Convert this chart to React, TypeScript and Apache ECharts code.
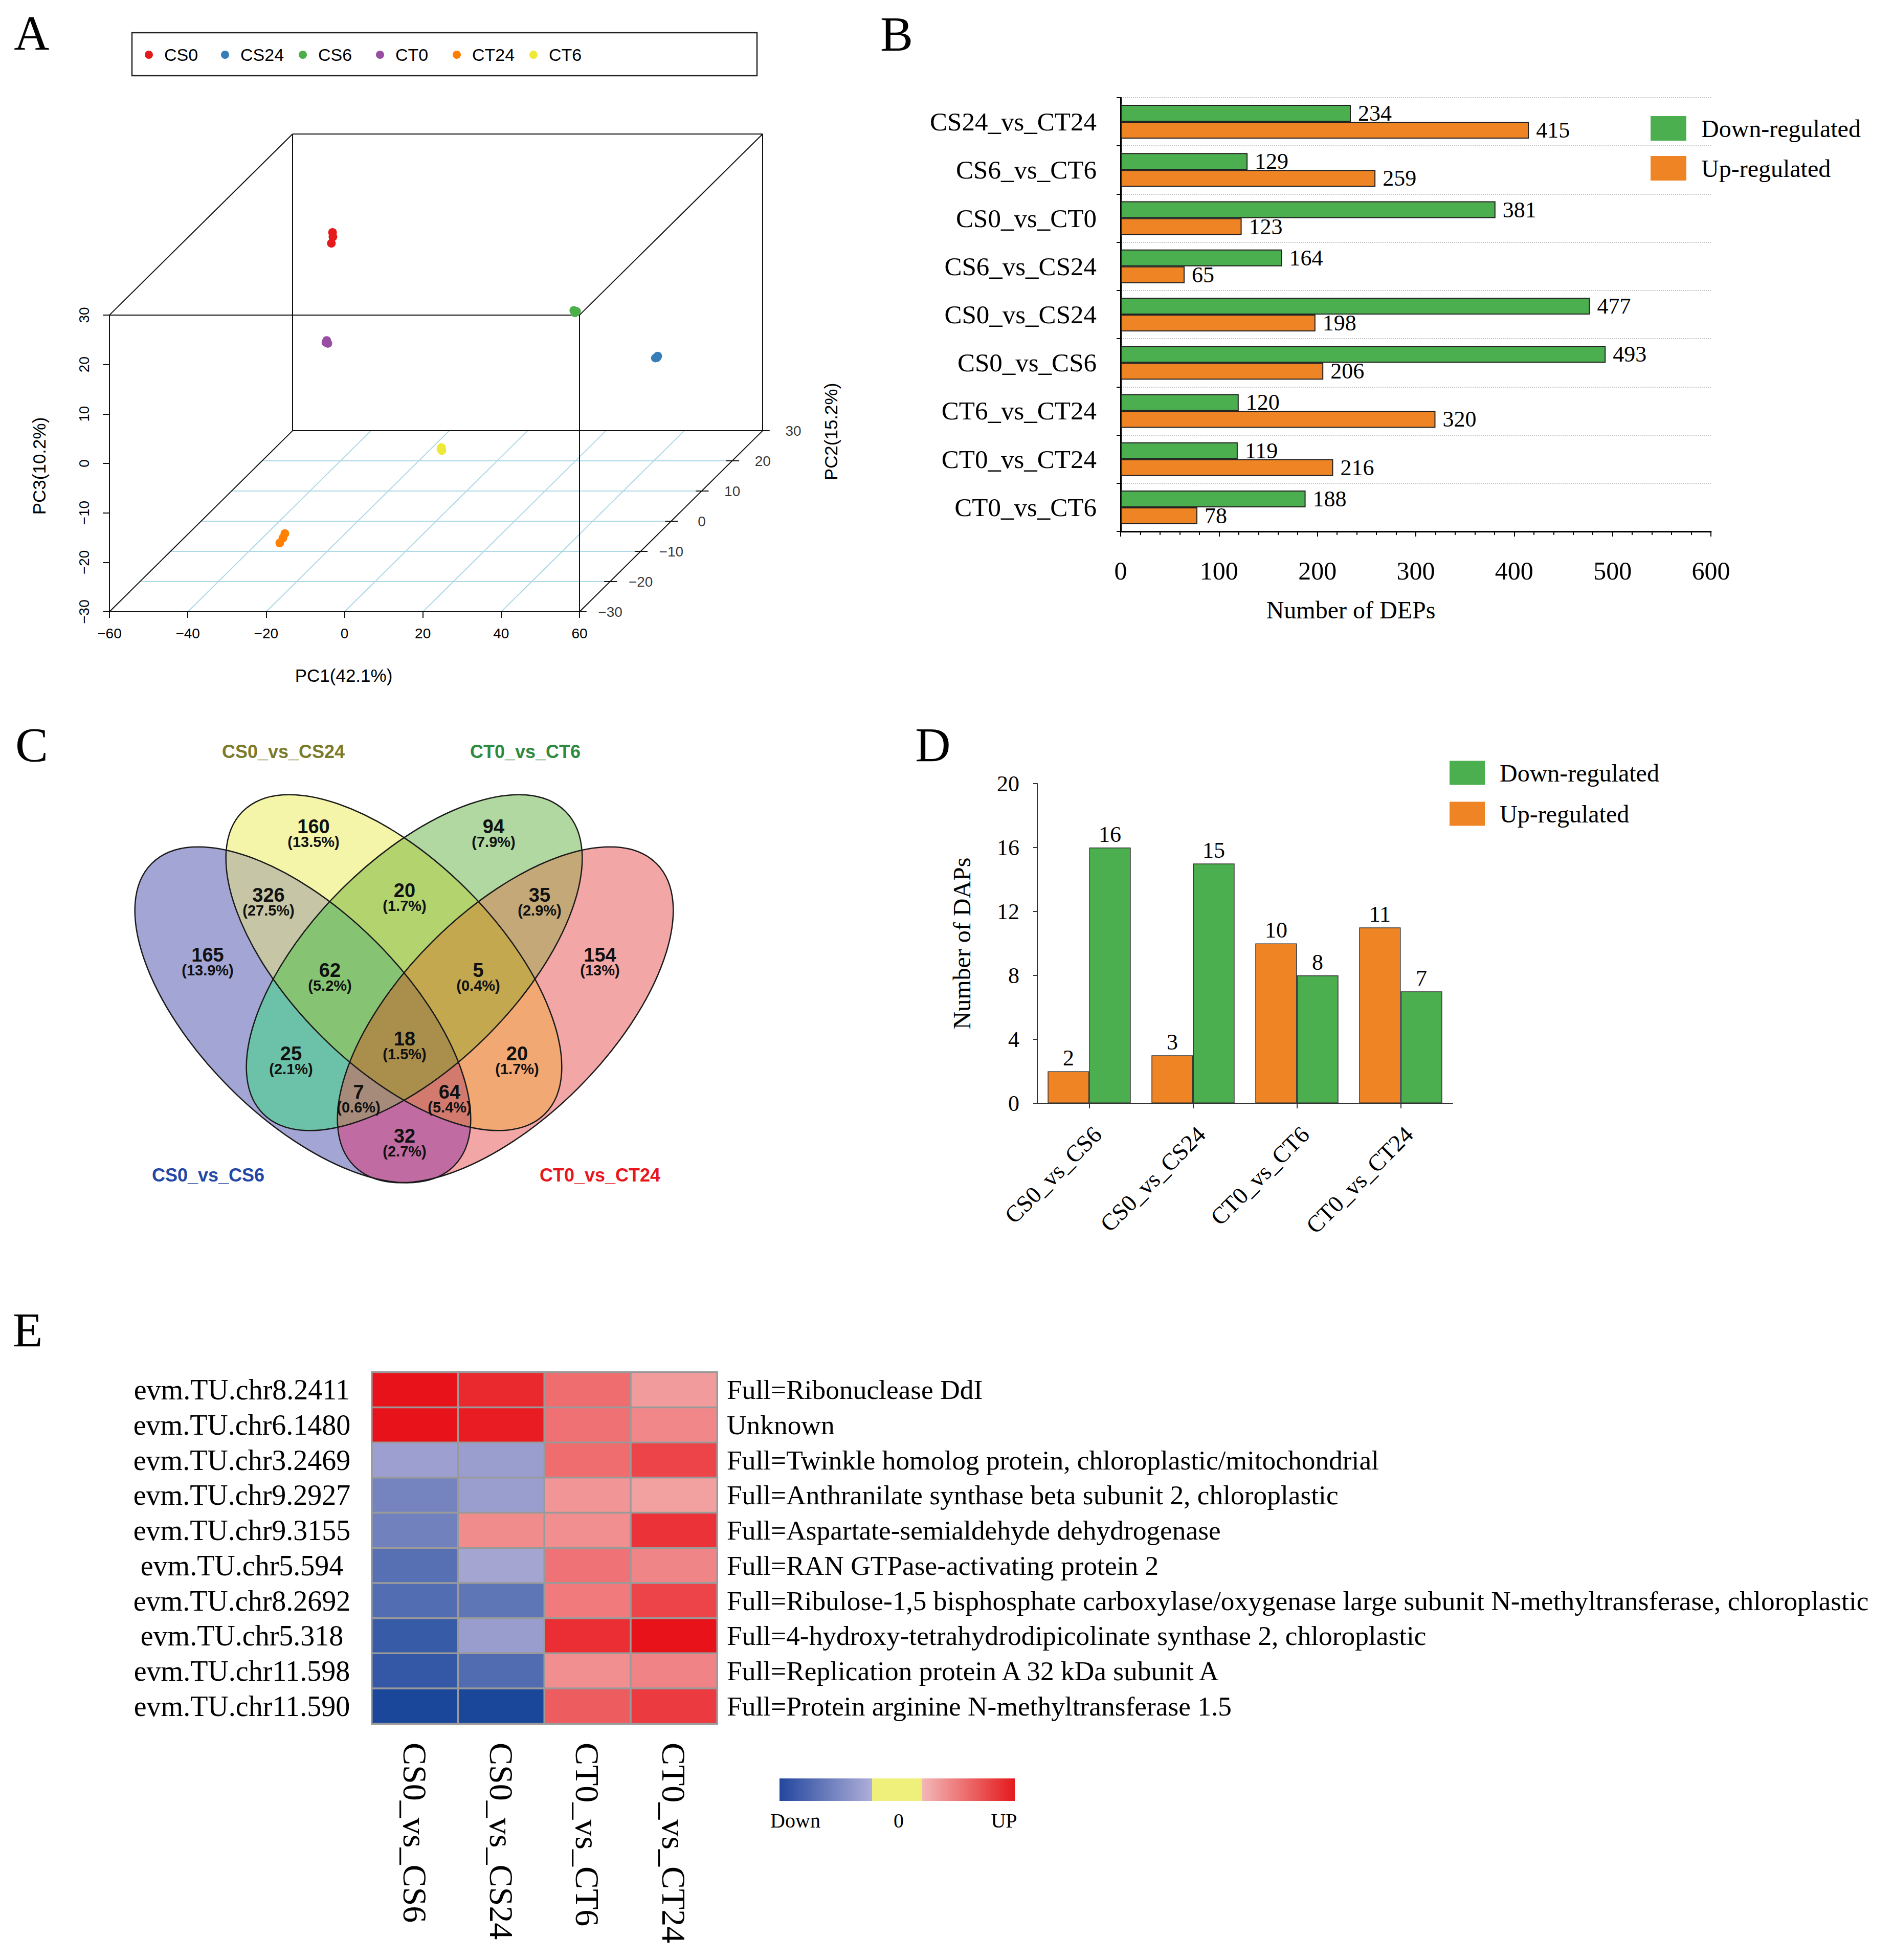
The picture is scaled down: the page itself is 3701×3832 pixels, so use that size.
import React, { useEffect, useRef } from 'react';
import * as echarts from 'echarts';

const W = 3701;
const H = 3832;
const SERIF = '"Liberation Serif", "Times New Roman", serif';
const SANS = '"Liberation Sans", Arial, sans-serif';

// ---------------- Panel A : PCA (PC1, PC2, PC3 per replicate) ----------------
const pcaGroups = ['CS0', 'CS24', 'CS6', 'CT0', 'CT24', 'CT6'];
const pcaCS0 = [[-42.0, 20, 16.2], [-41.9, 20, 15.3], [-42.3, 20, 14.0]];
const pcaCS24 = [[48.2, 10, -3.1], [48.8, 10, -2.7], [48.6, 10, -3.0]];
const pcaCS6 = [[56.2, -27, 29.1], [56.9, -27, 28.9], [56.5, -27, 28.6]];
const pcaCT0 = [[-39.6, 15, -2.6], [-39.3, 15, -3.2], [-39.8, 15, -3.0]];
const pcaCT24 = [[-30.8, -10, -26.4], [-31.3, -10, -27.3], [-32.1, -10, -28.3]];
const pcaCT6 = [[-14.2, 20, -27.3], [-14.1, 20, -27.9], [-14.3, 20, -27.6]];
const pc1Ticks = [-60, -40, -20, 0, 20, 40, 60];
const pc2Ticks = [-30, -20, -10, 0, 10, 20, 30];
const pc3Ticks = [-30, -20, -10, 0, 10, 20, 30];
const pcTitles = ['PC1(42.1%)', 'PC2(15.2%)', 'PC3(10.2%)'];

// ---------------- Panel B ----------------
const catsB = ['CS24_vs_CT24', 'CS6_vs_CT6', 'CS0_vs_CT0', 'CS6_vs_CS24', 'CS0_vs_CS24', 'CS0_vs_CS6', 'CT6_vs_CT24', 'CT0_vs_CT24', 'CT0_vs_CT6'];
const downB = [234, 129, 381, 164, 477, 493, 120, 119, 188];
const upB = [415, 259, 123, 65, 198, 206, 320, 216, 78];

// ---------------- Panel C : Venn (sets order: CS0_vs_CS6, CS0_vs_CS24, CT0_vs_CT6, CT0_vs_CT24) ----------------
const vennSets = ['CS0_vs_CS6', 'CS0_vs_CS24', 'CT0_vs_CT6', 'CT0_vs_CT24'];
const vennCounts = [165, 160, 94, 154, 326, 20, 35, 62, 5, 25, 20, 18, 7, 64, 32];
const vennMembership = [
  [1, 0, 0, 0], [0, 1, 0, 0], [0, 0, 1, 0], [0, 0, 0, 1],
  [1, 1, 0, 0], [0, 1, 1, 0], [0, 0, 1, 1], [1, 1, 1, 0], [0, 1, 1, 1],
  [1, 0, 1, 0], [0, 1, 0, 1], [1, 1, 1, 1], [1, 0, 1, 1], [1, 1, 0, 1], [1, 0, 0, 1],
];

// ---------------- Panel D ----------------
const catsD = ['CS0_vs_CS6', 'CS0_vs_CS24', 'CT0_vs_CT6', 'CT0_vs_CT24'];
const upD = [2, 3, 10, 11];
const downD = [16, 15, 8, 7];

// ---------------- Panel E : heatmap ----------------
const colsE = ['CS0_vs_CS6', 'CS0_vs_CS24', 'CT0_vs_CT6', 'CT0_vs_CT24'];
const genesE = ['evm.TU.chr8.2411', 'evm.TU.chr6.1480', 'evm.TU.chr3.2469', 'evm.TU.chr9.2927', 'evm.TU.chr9.3155', 'evm.TU.chr5.594', 'evm.TU.chr8.2692', 'evm.TU.chr5.318', 'evm.TU.chr11.598', 'evm.TU.chr11.590'];
const descE = [
  'Full=Ribonuclease DdI',
  'Unknown',
  'Full=Twinkle homolog protein, chloroplastic/mitochondrial',
  'Full=Anthranilate synthase beta subunit 2, chloroplastic',
  'Full=Aspartate-semialdehyde dehydrogenase',
  'Full=RAN GTPase-activating protein 2',
  'Full=Ribulose-1,5 bisphosphate carboxylase/oxygenase large subunit N-methyltransferase, chloroplastic',
  'Full=4-hydroxy-tetrahydrodipicolinate synthase 2, chloroplastic',
  'Full=Replication protein A 32 kDa subunit A',
  'Full=Protein arginine N-methyltransferase 1.5',
];
const valuesE = [
  [1.0, 0.9, 0.6, 0.39],
  [1.0, 0.96, 0.58, 0.48],
  [-0.38, -0.39, 0.6, 0.78],
  [-0.57, -0.39, 0.42, 0.37],
  [-0.59, 0.46, 0.45, 0.86],
  [-0.71, -0.34, 0.57, 0.49],
  [-0.73, -0.68, 0.54, 0.78],
  [-0.86, -0.4, 0.88, 1.0],
  [-0.88, -0.74, 0.45, 0.5],
  [-1.0, -1.0, 0.67, 0.82],
];
const scaleLabelsE = ['Down', '0', 'UP'];

// ---------------- layout / styles ----------------
const A_COLORS = ['#E41A1C', '#377EB8', '#4DAF4A', '#984EA3', '#FF7F00', '#EEE936'];
const GREEN = '#4BAE4F';
const ORANGE = '#EF8425';
const KX = 0.779;
const KY = 0.61;
const proj = (p1: number, p2: number, p3: number) => [p1 + (p2 + 30) * KX, p3 + (p2 + 30) * KY];
const fmtMinus = (v: number) => (v < 0 ? '\u2212' + Math.abs(v) : String(v));

// Venn geometry (layout)
const VENN_ELL = [
  { cx: 592, cy: 1984, rot: -45, fill: 'rgba(71,75,171,0.5)' },
  { cx: 770, cy: 1882, rot: -45, fill: 'rgba(233,235,81,0.5)' },
  { cx: 810, cy: 1882, rot: 45, fill: 'rgba(97,177,65,0.5)' },
  { cx: 988, cy: 1984, rot: 45, fill: 'rgba(229,77,77,0.5)' },
];
const EA = 418;
const EB = 202;
const VENN_POS = [[406, 1867], [613, 1616], [965, 1616], [1173, 1867], [525, 1750], [791, 1741], [1055, 1750], [645, 1897], [935, 1897], [569, 2060], [1011, 2060], [791, 2031], [701, 2135], [879, 2135], [791, 2221]];
const VENN_REGION_COLORS = [null, null, null, null, '#C6C6A6', '#B3D36F', '#C4A878', '#86C474', '#C4A84F', '#6CC2A8', '#F2A872', '#A98E4C', '#A68B7B', '#D27A6E', '#C06CA2'];

function insideEll(k: number, x: number, y: number) {
  const e = VENN_ELL[k];
  const r = (e.rot * Math.PI) / 180;
  const dx = x - e.cx, dy = y - e.cy;
  const u = dx * Math.cos(r) - dy * Math.sin(r);
  const v = dx * Math.sin(r) + dy * Math.cos(r);
  return (u * u) / (EA * EA) + (v * v) / (EB * EB) <= 1;
}
function sameRegion(mem: number[], x: number, y: number) {
  for (let k = 0; k < 4; k++) if ((insideEll(k, x, y) ? 1 : 0) !== mem[k]) return false;
  return true;
}
function regionPolygon(cx: number, cy: number, mem: number[]) {
  const pts: number[][] = [];
  const N = 360;
  for (let i = 0; i < N; i++) {
    const t = (i / N) * Math.PI * 2;
    const c = Math.cos(t), s = Math.sin(t);
    let lo = 0, hi = 0;
    for (let d = 2; d < 900; d += 2) {
      if (!sameRegion(mem, cx + d * c, cy + d * s)) { lo = d - 2; hi = d; break; }
    }
    if (hi === 0) { lo = 900; hi = 900; }
    for (let it = 0; it < 14; it++) {
      const m = (lo + hi) / 2;
      if (sameRegion(mem, cx + m * c, cy + m * s)) lo = m; else hi = m;
    }
    pts.push([cx + hi * c, cy + hi * s]);
  }
  return pts;
}

function buildOption() {
  const pcaData = [pcaCS0, pcaCS24, pcaCS6, pcaCT0, pcaCT24, pcaCT6];

  const r1 = [-60, 60], r2 = [-30, 30], r3 = [-30, 30];
  const corners: number[][] = [];
  for (let i = 0; i < 8; i++) corners.push([r1[i & 1], r2[(i >> 1) & 1], r3[(i >> 2) & 1]]);
  const boxEdges: any[] = [];
  for (let i = 0; i < 8; i++)
    for (let j = i + 1; j < 8; j++) {
      const x = i ^ j;
      if (x === 1 || x === 2 || x === 4) {
        boxEdges.push({ coords: [proj(corners[i][0], corners[i][1], corners[i][2]), proj(corners[j][0], corners[j][1], corners[j][2])] });
      }
    }
  const floor: any[] = [];
  pc2Ticks.slice(1, -1).forEach((v) => floor.push({ coords: [proj(-60, v, -30), proj(60, v, -30)] }));
  pc1Ticks.slice(1, -1).forEach((u) => floor.push({ coords: [proj(u, -30, -30), proj(u, 30, -30)] }));
  const pc2TickLines = pc2Ticks.map((v) => ({ coords: [proj(58.5, v, -30), proj(61.8, v, -30)] }));

  const series: any[] = [];
  series.push({ type: 'lines', coordinateSystem: 'cartesian2d', xAxisIndex: 0, yAxisIndex: 0, data: floor, lineStyle: { color: '#ADD8E6', width: 2, opacity: 1 }, silent: true, clip: false, z: 2 });
  series.push({ type: 'lines', coordinateSystem: 'cartesian2d', xAxisIndex: 0, yAxisIndex: 0, data: boxEdges, lineStyle: { color: '#111', width: 2, opacity: 1 }, silent: true, clip: false, z: 3 });
  series.push({ type: 'lines', coordinateSystem: 'cartesian2d', xAxisIndex: 0, yAxisIndex: 0, data: pc2TickLines, lineStyle: { color: '#111', width: 2, opacity: 1 }, silent: true, clip: false, z: 3 });
  series.push({
    type: 'scatter', xAxisIndex: 0, yAxisIndex: 0, silent: true, clip: false,
    data: pc2Ticks.map((v) => [...proj(60, v, -30), v]),
    symbolSize: 1, itemStyle: { color: 'rgba(0,0,0,0)' },
    label: { show: true, position: 'inside', offset: [60, 0], formatter: (p: any) => fmtMinus(p.value[2]), fontSize: 28, fontFamily: SANS, color: '#000' },
  });
  pcaGroups.forEach((g, i) => {
    series.push({
      type: 'scatter', name: g, xAxisIndex: 0, yAxisIndex: 0, silent: true, clip: false, z: 5,
      data: pcaData[i].map((p) => proj(p[0], p[1], p[2])),
      symbolSize: 17, itemStyle: { color: A_COLORS[i], opacity: 1 },
    });
  });

  // Panel B
  series.push({
    type: 'bar', name: 'Down-regulated', xAxisIndex: 1, yAxisIndex: 1, data: downB, barWidth: 33, barGap: '0%',
    itemStyle: { color: GREEN, borderColor: '#222', borderWidth: 2 },
    label: { show: true, position: 'right', distance: 14, fontSize: 44, fontFamily: SERIF, color: '#000' },
  });
  series.push({
    type: 'bar', name: 'Up-regulated', xAxisIndex: 1, yAxisIndex: 1, data: upB, barWidth: 33, barGap: '0%',
    itemStyle: { color: ORANGE, borderColor: '#222', borderWidth: 2 },
    label: { show: true, position: 'right', distance: 14, fontSize: 44, fontFamily: SERIF, color: '#000' },
  });

  // Panel D
  series.push({
    type: 'bar', name: 'Up-regulated', xAxisIndex: 2, yAxisIndex: 2, data: upD, barGap: '0%', barCategoryGap: '20%',
    itemStyle: { color: ORANGE, borderColor: '#333', borderWidth: 1.5 },
    label: { show: true, position: 'top', distance: 4, fontSize: 44, fontFamily: SERIF, color: '#000' },
  });
  series.push({
    type: 'bar', name: 'Down-regulated', xAxisIndex: 2, yAxisIndex: 2, data: downD, barGap: '0%', barCategoryGap: '20%',
    itemStyle: { color: GREEN, borderColor: '#333', borderWidth: 1.5 },
    label: { show: true, position: 'top', distance: 4, fontSize: 44, fontFamily: SERIF, color: '#000' },
  });

  // Panel E
  const heatIndex = series.length;
  series.push({
    type: 'heatmap', xAxisIndex: 3, yAxisIndex: 3, silent: true,
    data: valuesE.flatMap((row, r) => row.map((v, c) => [c, r, v])),
    itemStyle: { borderColor: '#9A9A9A', borderWidth: 3.5 },
  });

  // ---------- graphics ----------
  const g: any[] = [];
  const txt = (x: number, y: number, text: string, size: number, family: string, extra: any = {}) => ({
    type: 'text', x, y, silent: true,
    style: { text, fontSize: size, fontFamily: family, fill: '#000', align: 'center', verticalAlign: 'middle', ...(extra.style || {}) },
    ...(extra.el || {}),
  });
  [['A', 62, 64], ['B', 1753, 66], ['C', 62, 1456], ['D', 1824, 1456], ['E', 54, 2600]].forEach((l: any) => g.push(txt(l[1], l[2], l[0], 96, SERIF)));

  // Panel A legend
  g.push({ type: 'rect', silent: true, shape: { x: 258, y: 64, width: 1222, height: 84 }, style: { fill: 'none', stroke: '#222', lineWidth: 2.5 } });
  const legX = [291, 440, 592, 743, 893, 1043];
  pcaGroups.forEach((name, i) => {
    g.push({ type: 'circle', silent: true, shape: { cx: legX[i], cy: 107, r: 8 }, style: { fill: A_COLORS[i] } });
    g.push(txt(legX[i] + 30, 107, name, 34, SANS, { style: { align: 'left' } }));
  });
  g.push(txt(672, 1320, pcTitles[0], 35, SANS));
  g.push(txt(1624, 844, pcTitles[1], 35, SANS, { el: { rotation: Math.PI / 2 } }));
  g.push(txt(76, 911, pcTitles[2], 35, SANS, { el: { rotation: Math.PI / 2 } }));

  // Panel C venn: base translucent ellipses, region overlays, outlines, labels
  VENN_ELL.forEach((e) => g.push({ type: 'ellipse', silent: true, x: e.cx, y: e.cy, rotation: (e.rot * Math.PI) / 180, shape: { cx: 0, cy: 0, rx: EA, ry: EB }, style: { fill: e.fill } }));
  vennMembership.forEach((mem, i) => {
    const col = VENN_REGION_COLORS[i];
    if (!col) return;
    g.push({ type: 'polygon', silent: true, shape: { points: regionPolygon(VENN_POS[i][0], VENN_POS[i][1] + 14, mem) }, style: { fill: col, stroke: col, lineWidth: 1 } });
  });
  VENN_ELL.forEach((e) => g.push({ type: 'ellipse', silent: true, x: e.cx, y: e.cy, rotation: (e.rot * Math.PI) / 180, shape: { cx: 0, cy: 0, rx: EA, ry: EB }, style: { fill: 'none', stroke: '#1a1a1a', lineWidth: 2.5 } }));
  const total = vennCounts.reduce((s, v) => s + v, 0);
  vennCounts.forEach((c, i) => {
    const [x, y] = VENN_POS[i];
    const pct = Number(((c / total) * 100).toFixed(1)).toString();
    g.push(txt(x, y, String(c), 38, SANS, { style: { fontWeight: 'bold', fill: '#111', lineHeight: 30 } }));
    g.push(txt(x, y + 30, '(' + pct + '%)', 29, SANS, { style: { fontWeight: 'bold', fill: '#111', lineHeight: 24 } }));
  });
  const setPos = [[407, 2297], [554, 1469], [1027, 1469], [1173, 2297]];
  const setCol = ['#2347A5', '#7B7B2C', '#2F8A3E', '#E8171D'];
  vennSets.forEach((s, i) => g.push(txt(setPos[i][0], setPos[i][1], s, 36, SANS, { style: { fontWeight: 'bold', fill: setCol[i] } })));

  // Panel E colour key
  g.push({ type: 'rect', silent: true, shape: { x: 1524, y: 3477, width: 182, height: 44 }, style: { fill: new echarts.graphic.LinearGradient(0, 0, 1, 0, [{ offset: 0, color: '#23469E' }, { offset: 1, color: '#AFAFD9' }]) } });
  g.push({ type: 'rect', silent: true, shape: { x: 1705, y: 3477, width: 98, height: 44 }, style: { fill: '#EFEF7C' } });
  g.push({ type: 'rect', silent: true, shape: { x: 1802, y: 3477, width: 182, height: 44 }, style: { fill: new echarts.graphic.LinearGradient(0, 0, 1, 0, [{ offset: 0, color: '#F3B8B8' }, { offset: 1, color: '#E41A1C' }]) } });
  [1555, 1757, 1963].forEach((x, i) => g.push(txt(x, 3559, scaleLabelsE[i], 40, SERIF)));

  const noLine = { show: false, onZero: false };
  return {
    animation: false,
    backgroundColor: '#ffffff',
    textStyle: { fontFamily: SERIF },
    grid: [
      { left: 214, top: 262, width: 1277, height: 934 },
      { left: 2191, top: 191, width: 1154, height: 848 },
      { left: 2028, top: 1532, width: 812, height: 625 },
      { left: 727, top: 2683, width: 675, height: 687 },
    ].map((gr) => ({ ...gr, containLabel: false, outerBoundsMode: 'none' })),
    xAxis: [
      {
        gridIndex: 0, type: 'value', min: -60, max: 60 + 60 * KX, axisLine: noLine, splitLine: { show: false },
        axisTick: { show: true, customValues: pc1Ticks, length: 12, lineStyle: { color: '#111', width: 2 } },
        axisLabel: { customValues: pc1Ticks, formatter: fmtMinus, fontSize: 28, fontFamily: SANS, color: '#000', margin: 28 },
      },
      {
        gridIndex: 1, type: 'value', min: 0, max: 600, interval: 100,
        axisLine: { show: true, onZero: false, lineStyle: { color: '#000', width: 3 } },
        axisTick: { show: true, length: 10, lineStyle: { color: '#000', width: 2 } },
        minorTick: { show: true, splitNumber: 5, length: 7, lineStyle: { color: '#000', width: 2 } },
        splitLine: { show: false },
        axisLabel: { fontSize: 50, fontFamily: SERIF, color: '#000', margin: 52 },
        name: 'Number of DEPs', nameLocation: 'middle', nameGap: 129,
        nameTextStyle: { fontSize: 48, fontFamily: SERIF, color: '#000', padding: [0, 254, 0, 0] },
      },
      {
        gridIndex: 2, type: 'category', data: catsD,
        axisLine: { show: true, lineStyle: { color: '#333', width: 2 } },
        axisTick: { show: true, alignWithLabel: true, length: 10, lineStyle: { color: '#333', width: 2 } },
        axisLabel: { rotate: 45, interval: 0, verticalAlign: 'top', fontSize: 46, fontFamily: SERIF, color: '#000', margin: 37 },
      },
      {
        gridIndex: 3, type: 'category', data: colsE, position: 'bottom', axisLine: noLine, axisTick: { show: false }, splitLine: { show: false },
        axisLabel: { rotate: -90, interval: 0, fontSize: 66, fontFamily: SERIF, color: '#000', margin: 37 },
      },
    ],
    yAxis: [
      {
        gridIndex: 0, type: 'value', min: -30, max: 30 + 60 * KY, axisLine: noLine, splitLine: { show: false },
        axisTick: { show: true, customValues: pc3Ticks, length: 13, lineStyle: { color: '#111', width: 2 } },
        axisLabel: { customValues: pc3Ticks, formatter: fmtMinus, rotate: 90, fontSize: 28, fontFamily: SANS, color: '#000', margin: 36 },
      },
      {
        gridIndex: 1, type: 'category', data: catsB, inverse: true,
        axisLine: { show: true, onZero: false, lineStyle: { color: '#000', width: 3 } },
        axisTick: { show: true, length: 8, lineStyle: { color: '#000', width: 2 } },
        axisLabel: { interval: 0, fontSize: 51, fontFamily: SERIF, color: '#000', margin: 47 },
        splitLine: { show: true, interval: 0, lineStyle: { type: 'dotted', color: '#c4c4c4', width: 2 } },
      },
      {
        gridIndex: 2, type: 'value', min: 0, max: 20, interval: 4,
        axisLine: { show: true, onZero: false, lineStyle: { color: '#333', width: 2 } },
        axisTick: { show: true, length: 8, lineStyle: { color: '#333', width: 2 } },
        splitLine: { show: false },
        axisLabel: { fontSize: 44, fontFamily: SERIF, color: '#000', margin: 35 },
        name: 'Number of DAPs', nameLocation: 'middle', nameGap: 124, nameTextStyle: { fontSize: 48, fontFamily: SERIF, color: '#000' },
      },
      {
        gridIndex: 3, type: 'category', data: genesE, inverse: true, axisLine: noLine, axisTick: { show: false }, splitLine: { show: false },
        axisLabel: { interval: 0, fontSize: 56, fontFamily: SERIF, color: '#000', margin: 254, align: 'center' },
      },
      {
        gridIndex: 3, type: 'category', data: descE, inverse: true, position: 'right', axisLine: noLine, axisTick: { show: false }, splitLine: { show: false },
        axisLabel: { interval: 0, fontSize: 53.4, fontFamily: SERIF, color: '#000', margin: 19 },
      },
    ],
    legend: [
      {
        data: ['Down-regulated', 'Up-regulated'], orient: 'vertical', left: 3227, top: 227, padding: 0,
        itemWidth: 70, itemHeight: 48, itemGap: 30, icon: 'rect', selectedMode: false,
        itemStyle: { borderWidth: 0 },
        textStyle: { fontSize: 48, fontFamily: SERIF, color: '#000', padding: [0, 0, 0, 24] },
      },
      {
        data: ['Down-regulated', 'Up-regulated'], orient: 'vertical', left: 2834, top: 1487, padding: 0,
        itemWidth: 69, itemHeight: 47, itemGap: 32, icon: 'rect', selectedMode: false,
        itemStyle: { borderWidth: 0 },
        textStyle: { fontSize: 48, fontFamily: SERIF, color: '#000', padding: [0, 0, 0, 24] },
      },
    ],
    visualMap: {
      type: 'continuous', show: false, seriesIndex: heatIndex, dimension: 2, min: -1, max: 1,
      inRange: { color: ['#1B479B', '#A6A6D3', '#F3A8A8', '#E8131A'] },
    },
    graphic: { elements: g },
    series,
  };
}

export default function App() {
  const ref = useRef<HTMLDivElement>(null);
  useEffect(() => {
    document.body.style.margin = '0';
    const chart = echarts.init(ref.current as HTMLDivElement, null, { renderer: 'svg', width: W, height: H });
    chart.setOption(buildOption() as any);
    return () => chart.dispose();
  }, []);
  return <div ref={ref} style={{ width: W, height: H, background: '#fff' }} />;
}
